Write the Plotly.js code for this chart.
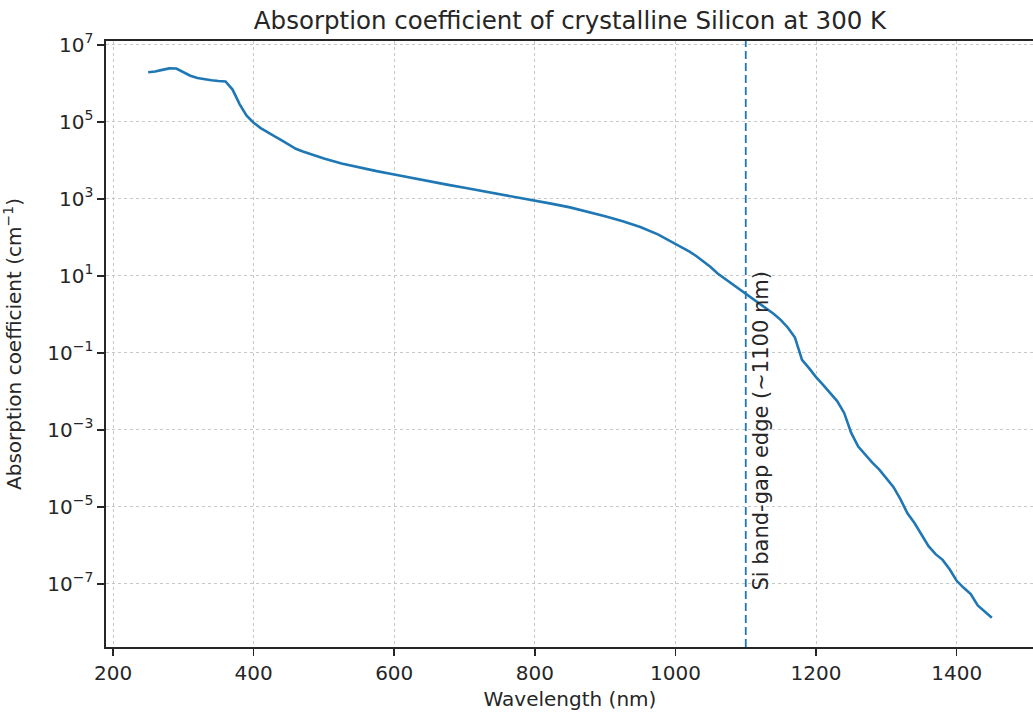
<!DOCTYPE html>
<html>
<head>
<meta charset="utf-8">
<script src="https://cdn.plot.ly/plotly-3.0.1.min.js"></script>
<style>
  html, body { margin: 0; padding: 0; overflow: hidden; background: #fff; }
  #chart { width: 1036px; height: 712px; }
</style>
</head>
<body>
<div id="chart"></div>
<script>
// Wavelength (nm) and absorption coefficient (cm^-1) of crystalline Si at 300 K
const wavelength = [
  250, 260, 270, 280, 290, 300, 310, 320, 330, 340, 350, 360, 370, 380, 390,
  400, 410, 420, 430, 440, 450, 460, 470, 480, 490, 500,
  525, 550, 575, 600, 625, 650, 675, 700, 725, 750, 775, 800, 825, 850, 875,
  900, 925, 950, 975, 1000, 1020, 1030, 1040, 1050, 1060, 1070, 1080, 1090,
  1100, 1110, 1120, 1130, 1140, 1150, 1160, 1170, 1180, 1190, 1200, 1210,
  1220, 1230, 1240, 1250, 1260, 1270, 1280, 1290, 1300, 1310, 1320, 1330,
  1340, 1350, 1360, 1370, 1380, 1390, 1400, 1410, 1420, 1430, 1440, 1450
];
const absorption = [
  1.95e6, 2.04e6, 2.24e6, 2.45e6, 2.43e6, 1.91e6, 1.58e6, 1.38e6, 1.26e6, 1.20e6, 1.15e6, 1.12e6, 6.9e5, 2.9e5, 1.45e5,
  9.5e4, 6.9e4, 5.25e4, 4.17e4, 3.31e4, 2.63e4, 2.0e4, 1.7e4, 1.48e4, 1.29e4, 1.12e4,
  8.3e3, 6.45e3, 5.25e3, 4.3e3, 3.47e3, 2.82e3, 2.34e3, 1.95e3, 1.62e3, 1.32e3, 1.10e3, 900, 740, 600, 470,
  355, 263, 186, 120, 69, 42.7, 32.4, 24, 17, 11.5, 8.5, 6.5, 4.8,
  3.55, 2.63, 1.95, 1.41, 1.02, 0.71, 0.45, 0.25, 0.066, 0.040, 0.0234, 0.0148,
  0.0093, 0.0056, 0.00275, 8.3e-4, 3.7e-4, 2.24e-4, 1.41e-4, 9.3e-5, 5.6e-5, 3.3e-5, 1.58e-5, 6.8e-6,
  3.8e-6, 1.9e-6, 9.5e-7, 5.9e-7, 4.2e-7, 2.4e-7, 1.2e-7, 7.9e-8, 5.4e-8, 2.75e-8, 1.9e-8, 1.32e-8
];

// Band-gap marker
const bandGapNm = 1100;
const bandGapLabel = 'Si band-gap edge (~1100 nm)';

// Axis ticks
const xTicks = [200, 400, 600, 800, 1000, 1200, 1400];
const yTickVals = [1e-7, 1e-5, 1e-3, 1e-1, 1e1, 1e3, 1e5, 1e7];
const yTickText = ['10<sup>−7</sup>', '10<sup>−5</sup>', '10<sup>−3</sup>', '10<sup>−1</sup>',
                   '10<sup>1</sup>', '10<sup>3</sup>', '10<sup>5</sup>', '10<sup>7</sup>'];

const FONT = 'DejaVu Sans, Verdana, sans-serif';
const INK = '#262626';

const trace = {
  x: wavelength,
  y: absorption,
  type: 'scatter',
  mode: 'lines',
  line: { color: '#1f77b4', width: 2.6 },
  hoverinfo: 'x+y'
};

const axisCommon = {
  showline: true,
  linecolor: INK,
  linewidth: 1.6,
  mirror: true,
  ticks: 'outside',
  ticklen: 7,
  tickwidth: 1.6,
  tickcolor: INK,
  showgrid: true,
  gridcolor: '#c8c8c8',
  gridwidth: 1,
  griddash: 'dot',
  zeroline: false,
  tickfont: { family: FONT, size: 20, color: INK }
};

const layout = {
  width: 1036,
  height: 712,
  margin: { l: 106, r: 2, t: 41, b: 65 },
  paper_bgcolor: '#ffffff',
  plot_bgcolor: '#ffffff',
  showlegend: false,
  font: { family: FONT, color: INK },
  title: {
    text: 'Absorption coefficient of crystalline Silicon at 300 K',
    font: { family: FONT, size: 24.5, color: INK },
    x: 0.5, xref: 'paper',
    y: 1 - 20 / 712, yref: 'container', yanchor: 'middle'
  },
  xaxis: Object.assign({}, axisCommon, {
    range: [190, 1510],
    tickmode: 'array',
    tickvals: xTicks,
    ticktext: xTicks.map(String),
    title: { text: 'Wavelength (nm)', font: { family: FONT, size: 20, color: INK }, standoff: 8 }
  }),
  yaxis: Object.assign({}, axisCommon, {
    type: 'log',
    range: [-8.64, 7.10],
    tickmode: 'array',
    tickvals: yTickVals,
    ticktext: yTickText,
    title: { text: 'Absorption coefficient (cm<sup>−1</sup>)', font: { family: FONT, size: 20, color: INK }, standoff: 20 }
  }),
  shapes: [{
    type: 'line',
    xref: 'x', yref: 'paper',
    x0: bandGapNm, x1: bandGapNm, y0: 0, y1: 1,
    line: { color: '#1f77b4', width: 1.8, dash: '8px,4px' }
  }],
  annotations: [{
    xref: 'x', yref: 'y',
    x: bandGapNm + 2,
    y: Math.log10(6e-8),
    text: bandGapLabel,
    textangle: -90,
    showarrow: false,
    xanchor: 'left',
    yanchor: 'bottom',
    font: { family: FONT, size: 21, color: INK }
  }]
};

Plotly.newPlot('chart', [trace], layout, { displayModeBar: false, staticPlot: true });
</script>
</body>
</html>
